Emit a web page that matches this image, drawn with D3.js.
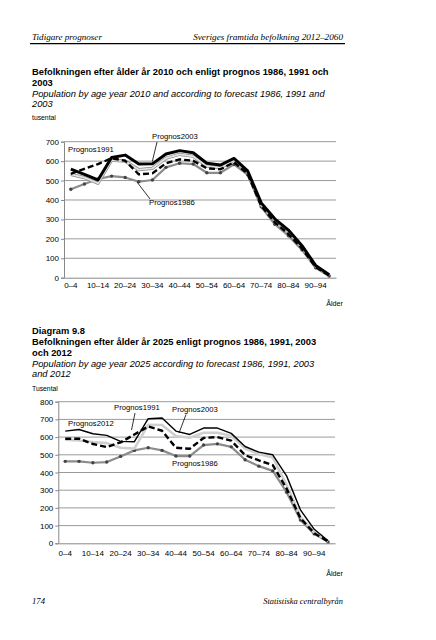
<!DOCTYPE html>
<html><head><meta charset="utf-8">
<script src="https://cdn.jsdelivr.net/npm/d3@7"></script>
<style>body{margin:0;background:#fff}svg{display:block}</style>
</head><body>
<script>
// ---- data ----
const ageGroups = ["0–4","5–9","10–14","15–19","20–24","25–29","30–34","35–39","40–44","45–49","50–54","55–59","60–64","65–69","70–74","75–79","80–84","85–89","90–94","95–"];

// Chart 1: population 2010 and forecasts (thousands)
const actual2010   = [559,532,503,619,631,585,586,637,654,643,589,580,614,550,385,303,245,165,63,15];
const top2003      = [532,515,486,605,600,556,563,615,635,625,575,565,605,540,375,295,235,157,58,12];
const top1991      = [535,560,585,615,602,532,537,589,609,602,563,558,594,535,370,285,225,150,55,11];
const top1986      = [455,482,508,523,516,494,503,568,589,585,540,540,583,530,365,275,216,143,51,9];
const topTicks     = [0,100,200,300,400,500,600,700];

// Chart 2: population 2025 according to forecasts (thousands)
const bot2012      = [634,643,619,610,576,574,704,708,634,615,651,651,621,547,515,500,381,189,79,14];
const bot2003      = [585,581,572,566,540,535,670,668,606,596,625,625,608,535,505,485,330,150,62,10];
const bot1991      = [591,591,561,544,570,615,660,636,540,534,595,600,580,498,468,442,309,142,57,10];
const bot1986      = [463,463,455,459,491,525,540,525,493,493,555,562,545,472,436,409,289,132,53,8];
const botTicks     = [0,100,200,300,400,500,600,700,800];

const W = 436, H = 640;
const svg = d3.select("body").append("svg").attr("width", W).attr("height", H);
svg.append("rect").attr("width", W).attr("height", H).attr("fill", "#fff");

const SANS = "Liberation Sans, Arial, sans-serif";
const SERIF = "Liberation Serif, Times New Roman, serif";

function fit(sel, w) {
  const l = sel.node().getComputedTextLength();
  const fs = parseFloat(sel.attr("font-size"));
  const nf = fs * w / l;
  sel.attr("font-size", nf);
  return nf;
}
function txt(x, y, s, o = {}) {
  const t = svg.append("text").attr("x", x).attr("y", y).text(s)
    .attr("font-family", o.family || SANS).attr("font-size", o.size || 9)
    .attr("fill", "#000");
  if (o.bold) t.attr("font-weight", "bold");
  if (o.italic) t.attr("font-style", "italic");
  if (o.anchor) t.attr("text-anchor", o.anchor);
  return t;
}

// ---- header / footer ----
const h1 = txt(32, 40, "Tidigare prognoser", {family: SERIF, italic: true, size: 10});
fit(h1, 70);
const h2 = txt(343, 40, "Sveriges framtida befolkning 2012–2060", {family: SERIF, italic: true, size: 10, anchor: "end"});
fit(h2, 150);
svg.append("line").attr("x1", 30).attr("x2", 345).attr("y1", 43.6).attr("y2", 43.6)
  .attr("stroke", "#000").attr("stroke-width", 1.2);
const f1 = txt(32, 604, "174", {family: SERIF, italic: true, size: 10});
fit(f1, 13);
const f2 = txt(343, 604, "Statistiska centralbyrån", {family: SERIF, italic: true, size: 10, anchor: "end"});
fit(f2, 80);

// ---- titles ----
const t1 = txt(32, 75, "Befolkningen efter ålder år 2010 och enligt prognos 1986, 1991 och", {bold: true, size: 9});
const bfs = fit(t1, 297);
txt(32, 85.5, "2003", {bold: true, size: bfs});
const t3 = txt(32, 96.5, "Population by age year 2010 and according to forecast 1986, 1991 and", {italic: true, size: 9});
const ifs = fit(t3, 293);
txt(32, 107, "2003", {italic: true, size: ifs});
txt(32, 120, "tusental", {size: 6.8});

txt(32, 334, "Diagram 9.8", {bold: true, size: bfs});
txt(32, 345, "Befolkningen efter ålder år 2025 enligt prognos 1986, 1991, 2003", {bold: true, size: bfs});
txt(32, 355.5, "och 2012", {bold: true, size: bfs});
txt(32, 366.5, "Population by age year 2025 according to forecast 1986, 1991, 2003", {italic: true, size: ifs});
txt(32, 377, "and 2012", {italic: true, size: ifs});
txt(32, 390.5, "Tusental", {size: 6.8});

// ---- chart drawing ----
function chart(cfg) {
  const x = d3.scaleBand().domain(ageGroups).range([cfg.x0, cfg.x1]);
  const y = d3.scaleLinear().domain([0, cfg.max]).range([cfg.yb, cfg.yt]);
  const g = svg.append("g");
  // gridlines
  g.selectAll(".grid").data(cfg.ticks.filter(d => d > 0)).join("line")
    .attr("x1", cfg.x0).attr("x2", cfg.x1)
    .attr("y1", d => y(d)).attr("y2", d => y(d))
    .attr("stroke", "#9a9a9a").attr("stroke-width", 1);
  // y axis
  const ya = g.append("g").attr("transform", `translate(${cfg.x0},0)`)
    .call(d3.axisLeft(y).tickValues(cfg.ticks).tickSize(3).tickPadding(2).tickFormat(d3.format("d")));
  ya.select(".domain").attr("stroke", "#888");
  ya.selectAll(".tick line").attr("stroke", "#888");
  ya.selectAll("text").attr("font-family", SANS).attr("font-size", 8).attr("fill", "#000");
  // x axis
  const xa = g.append("g").attr("transform", `translate(0,${cfg.yb})`)
    .call(d3.axisBottom(x).tickValues(ageGroups.filter((d, i) => i % 2 === 0)).tickSize(0).tickPadding(cfg.xpad));
  xa.select(".domain").attr("stroke", "#888");
  xa.selectAll("text").attr("font-family", SANS).attr("font-size", 8).attr("fill", "#000");

  const line = d3.line().x((d, i) => x(ageGroups[i]) + x.bandwidth() / 2).y(d => y(d)).curve(d3.curveLinear);
  cfg.series.forEach(s => {
    if (s.outline) {
      g.append("path").attr("d", line(s.values)).attr("fill", "none")
        .attr("stroke", s.outline).attr("stroke-width", s.width + 1.4).attr("stroke-linejoin", "round");
    }
    const p = g.append("path").attr("d", line(s.values)).attr("fill", "none")
      .attr("stroke", s.color).attr("stroke-width", s.width).attr("stroke-linejoin", "round");
    if (s.dash) p.attr("stroke-dasharray", s.dash);
    if (s.markers) {
      g.selectAll(null).data(s.values).join("circle")
        .attr("cx", (d, i) => x(ageGroups[i]) + x.bandwidth() / 2).attr("cy", d => y(d))
        .attr("r", 1.7).attr("fill", "#444");
    }
  });
  // labels
  cfg.labels.forEach(l => {
    txt(l.x, l.y, l.text, {size: 7.7});
    if (l.lead) g.append("line").attr("x1", l.lead[0]).attr("y1", l.lead[1]).attr("x2", l.lead[2]).attr("y2", l.lead[3])
      .attr("stroke", "#000").attr("stroke-width", 0.8);
  });
  txt(343, cfg.alderY, "Ålder", {size: 7.2, anchor: "end"});
}

chart({
  x0: 64, x1: 336, yt: 141.7, yb: 277.7, max: 700, ticks: topTicks, xpad: 5, alderY: 305.5,
  series: [
    {values: top1986, color: "#8c8c8c", width: 2.2, markers: true},
    {values: top2003, color: "#e2e2e2", width: 1.8, outline: "#8a8a8a"},
    {values: top1991, color: "#000", width: 2.4, dash: "6,3"},
    {values: actual2010, color: "#000", width: 3}
  ],
  labels: [
    {text: "Prognos1991", x: 68, y: 152},
    {text: "Prognos2003", x: 152, y: 139, lead: [157, 142, 152.3, 161.5]},
    {text: "Prognos1986", x: 149, y: 205, lead: [137, 182, 150, 199]}
  ]
});

chart({
  x0: 58.3, x1: 335, yt: 401.7, yb: 543.3, max: 800, ticks: botTicks, xpad: 7, alderY: 575.5,
  series: [
    {values: bot1986, color: "#8c8c8c", width: 2.2, markers: true},
    {values: bot2003, color: "#cfcfcf", width: 2.6},
    {values: bot1991, color: "#000", width: 2.4, dash: "6,3"},
    {values: bot2012, color: "#000", width: 1.4}
  ],
  labels: [
    {text: "Prognos2012", x: 68, y: 426},
    {text: "Prognos1991", x: 114, y: 410, lead: [135, 413, 131.5, 430]},
    {text: "Prognos2003", x: 172, y: 412, lead: [186, 414.5, 179, 433]},
    {text: "Prognos1986", x: 172, y: 466}
  ]
});
</script>
</body></html>
